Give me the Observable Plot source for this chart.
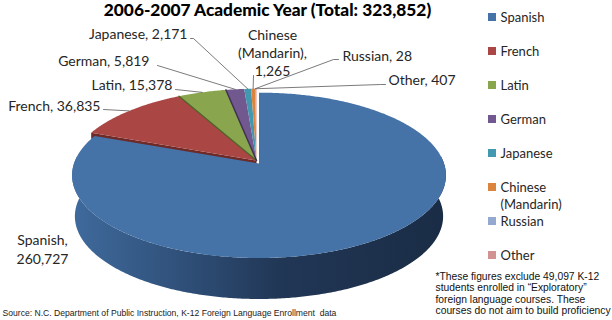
<!DOCTYPE html>
<html>
<head>
<meta charset="utf-8">
<script src="https://cdn.jsdelivr.net/npm/d3@7"></script>
<script src="https://cdn.jsdelivr.net/npm/@observablehq/plot@0.6"></script>
<style>
  html, body { margin: 0; padding: 0; background: #fff; }
  svg { display: block; }
</style>
</head>
<body>
<div id="chart"></div>
<script>
// Enrollment by language, 2006-2007
const languages = ["Spanish", "French", "Latin", "German", "Japanese", "Chinese (Mandarin)", "Russian", "Other"];
const enrollment = [260727, 36835, 15378, 5819, 2171, 1265, 28, 407];
const sliceColors = ["#4572a7", "#aa4643", "#89a54e", "#71588f", "#4198af", "#db843d", "#93a9cf", "#d19392"];

const chartTitle = "2006-2007 Academic Year (Total: 323,852)";
const sourceNote = "Source: N.C. Department of Public Instruction, K-12 Foreign Language Enrollment  data";
const footnote = [
  "*These figures exclude 49,097 K-12",
  "students enrolled in \u201cExploratory\u201d",
  "foreign language courses. These",
  "courses do not aim to build proficiency"
];

// Label placement: text block position and the leader line's starting points
const labelLayout = [
  {x: 42,  y: 240, anchor: "middle", gap: 19, leader: null},
  {x: 100, y: 106, anchor: "end",    gap: 18, leader: [[103, 109]]},
  {x: 172, y: 85,  anchor: "end",    gap: 18, leader: [[175, 89]]},
  {x: 149, y: 61,  anchor: "end",    gap: 18, leader: [[157, 65]]},
  {x: 187, y: 34,  anchor: "end",    gap: 18, leader: [[190, 38], [193, 38]]},
  {x: 272, y: 35,  anchor: "middle", gap: 18, leader: [[253, 75]]},
  {x: 342, y: 56,  anchor: "start",  gap: 18, leader: [[338, 59], [333, 59]]},
  {x: 388, y: 80,  anchor: "start",  gap: 18, leader: [[385, 84], [380, 84]]}
];
const legendRows = [17, 51, 85, 119, 153, 187, 221, 255];

// Pie geometry: a tilted disc seen in perspective
const main = {cx: 258.5, cy: 163, rx: 185, ry: 81};
const rest = {cx: 256, cy: 160, rx: 186, ry: 82};
const perspective = 1 / 7;
const depth = 41;

function rimPoint(angle, disc, drop = 0) {
  const u = Math.sin(angle), v = -Math.cos(angle);
  const s = 1 / (1 - perspective * v);
  return {x: disc.cx + disc.rx * u * s, y: disc.cy + disc.ry * v * s + drop};
}
function arcPoints(a0, a1, disc, drop = 0) {
  const n = Math.max(2, Math.ceil(Math.abs(a1 - a0) / 0.01));
  return d3.range(n + 1).map(i => rimPoint(a0 + (a1 - a0) * i / n, disc, drop));
}

const arcs = d3.pie().sort(null).value(d => d)(enrollment);
const discOf = i => (i === 0 ? main : rest);

const slices = arcs.flatMap((a, i) => {
  const disc = discOf(i);
  const outline = [{x: disc.cx, y: disc.cy}, ...arcPoints(a.startAngle, a.endAngle, disc)];
  return outline.map(p => ({...p, name: languages[i]}));
});

// Side wall of the big slice, front half of the rim
const deg = Math.PI / 180;
const wall = [
  ...arcPoints(85 * deg, 275 * deg, main),
  ...arcPoints(275 * deg, 85 * deg, {...main, rx: main.rx * 0.985}, depth)
];

// Cut face of the French slice, left showing where the big slice pulls away
const frenchStart = rimPoint(arcs[1].startAngle, rest);
const frenchCut = [
  {x: rest.cx, y: rest.cy},
  frenchStart,
  {x: frenchStart.x, y: frenchStart.y + 6},
  {x: rest.cx, y: rest.cy + 6}
];

const seam = (i, color) => {
  const p = rimPoint(arcs[i].startAngle, rest);
  return Plot.line([{x: rest.cx, y: rest.cy}, p], {x: "x", y: "y", stroke: color, strokeWidth: 1.4});
};

const sliceText = i => {
  const value = d3.format(",")(enrollment[i]);
  if (i === 0) return [languages[i] + ",", value];
  if (i === 5) return ["Chinese", "(Mandarin),", value];
  return [`${languages[i]}, ${value}`];
};
const labelRows = arcs.flatMap((a, i) => {
  const l = labelLayout[i];
  return sliceText(i).map((text, k) => ({text, x: l.x, y: l.y + k * l.gap, anchor: l.anchor}));
});
const leaders = arcs.flatMap((a, i) => {
  const l = labelLayout[i];
  if (!l.leader) return [];
  const end = rimPoint((a.startAngle + a.endAngle) / 2, rest);
  return [...l.leader.map(([x, y]) => ({x, y})), end].map(p => ({...p, name: languages[i]}));
});

const legendText = languages.flatMap((name, i) =>
  name.includes(" (")
    ? name.replace(" (", "\n(").split("\n").map((text, k) => ({text, y: legendRows[i] + k * 17}))
    : [{text: name, y: legendRows[i]}]
);
const legendSwatches = languages.map((name, i) => ({name, y: legendRows[i]}));

const wallGradient = () => {
  const holder = document.createElementNS("http://www.w3.org/2000/svg", "g");
  holder.innerHTML = `<defs><linearGradient id="wallShade" gradientUnits="userSpaceOnUse" x1="73" x2="446" y1="0" y2="0">
    <stop offset="0" stop-color="#3f6a9c"/><stop offset="0.3" stop-color="#2f4f78"/>
    <stop offset="0.55" stop-color="#213756"/><stop offset="1" stop-color="#1a2c45"/>
  </linearGradient></defs>`;
  return holder;
};

const labelMarks = ["start", "middle", "end"].map(anchor =>
  Plot.text(labelRows.filter(d => d.anchor === anchor), {
    x: "x", y: "y", text: "text", textAnchor: anchor,
    fontFamily: "Lato", fontSize: 14, fill: "#262626"
  })
);

const chart = Plot.plot({
  width: 612,
  height: 320,
  margin: 0,
  x: {axis: null, domain: [0, 612], range: [0, 612]},
  y: {axis: null, domain: [0, 320], range: [0, 320]},
  color: {type: "ordinal", domain: languages, range: sliceColors},
  style: {background: "#fff"},
  marks: [
    wallGradient,
    Plot.line(wall, {x: "x", y: "y", fill: "url(#wallShade)", stroke: "none", curve: "linear-closed"}),
    Plot.line(frenchCut, {x: "x", y: "y", fill: "#6d2a28", stroke: "none", curve: "linear-closed"}),
    Plot.line(slices.filter(d => d.name !== languages[0]), {
      x: "x", y: "y", z: "name", fill: "name", stroke: "none", curve: "linear-closed"
    }),
    seam(2, "#4f6228"),
    seam(3, "#403152"),
    Plot.line(slices.filter(d => d.name === languages[0]), {
      x: "x", y: "y", z: "name", fill: "name", stroke: "none", curve: "linear-closed"
    }),
    Plot.line(leaders, {x: "x", y: "y", z: "name", stroke: "#595959", strokeWidth: 0.8}),
    ...labelMarks,
    Plot.text([chartTitle], {
      x: () => 267, y: () => 10, text: d => d, textAnchor: "middle",
      fontFamily: "Lato", fontWeight: 900, fontSize: 17.3, fill: "#000"
    }),
    Plot.rect(legendSwatches, {
      x1: () => 488, x2: () => 496,
      y1: d => d.y - 4, y2: d => d.y + 4, fill: "name"
    }),
    Plot.text(legendText, {
      x: () => 500, y: "y", text: "text", textAnchor: "start",
      fontFamily: "Lato", fontSize: 13, letterSpacing: "0.6px", fill: "#262626"
    }),
    Plot.text(footnote, {
      x: () => 435, y: (d, i) => 276 + i * 11.5, text: d => d, textAnchor: "start",
      fontFamily: "Liberation Sans", fontSize: 10.3, fill: "#111"
    }),
    Plot.text([sourceNote], {
      x: () => 2, y: () => 313, text: d => d, textAnchor: "start",
      fontFamily: "Liberation Sans", fontSize: 8.6, fill: "#222"
    })
  ]
});
document.getElementById("chart").appendChild(chart);
</script>
</body>
</html>
